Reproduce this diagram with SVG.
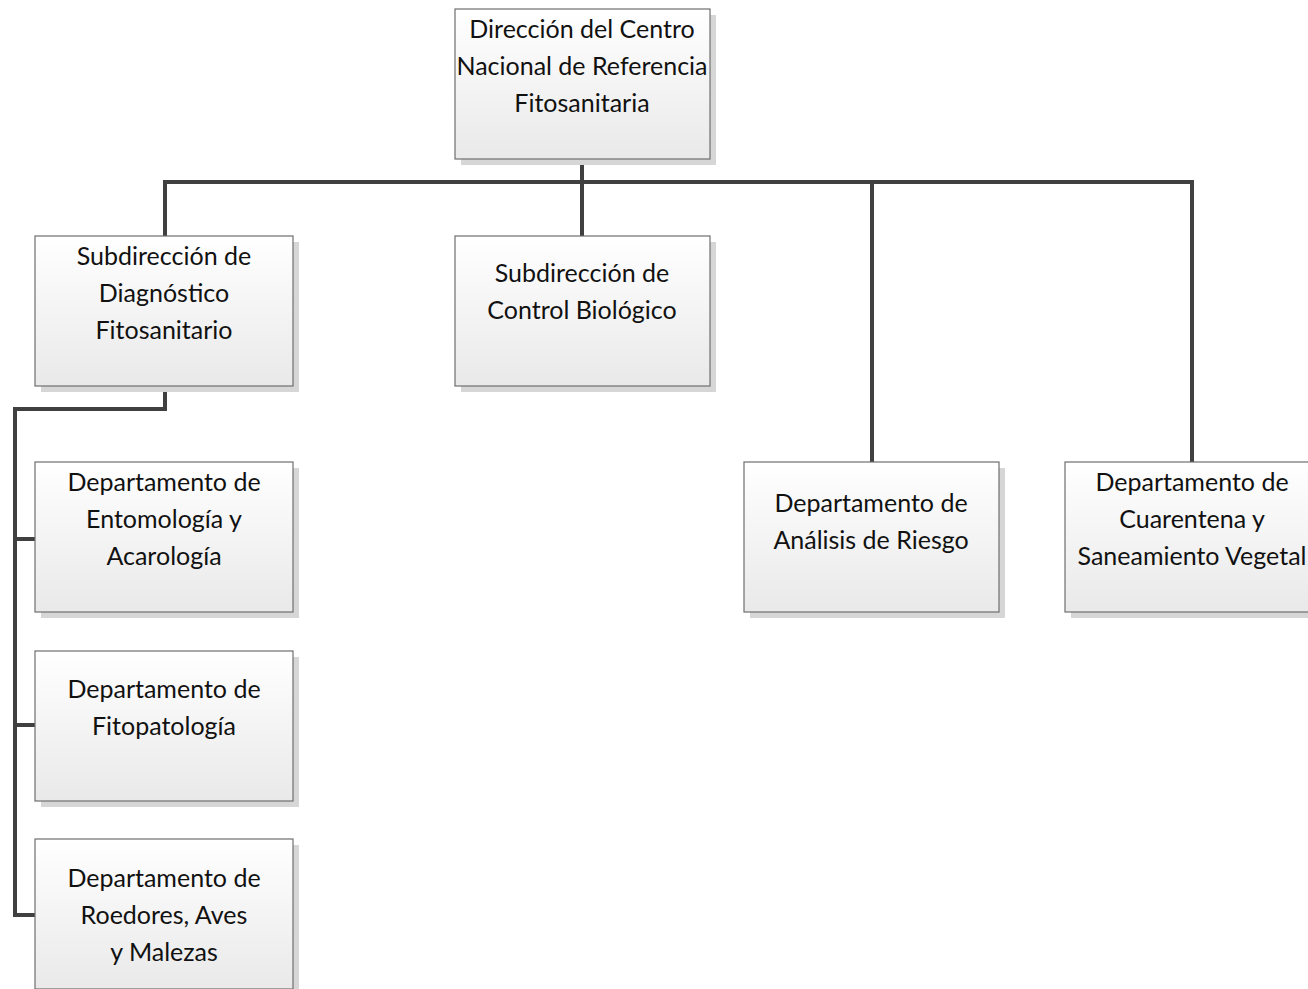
<svg xmlns="http://www.w3.org/2000/svg" width="1308" height="989" viewBox="0 0 1308 989">
<defs>
<linearGradient id="g" x1="0" y1="0" x2="0" y2="1">
<stop offset="0" stop-color="#ffffff"/>
<stop offset="1" stop-color="#e9e9e9"/>
</linearGradient>
<style>
.sh{fill:#d6d6d6}
.bx{fill:url(#g);stroke:#6e6e6e;stroke-width:1.2}
.t{font-family:Lato,"Open Sans","Liberation Sans",sans-serif;font-size:25px;fill:#111;text-anchor:middle}
.c{fill:none;stroke:#404040;stroke-width:4;stroke-linejoin:miter}
</style>
</defs>
<rect width="1308" height="989" fill="#ffffff"/>
<g id="connectors">
<path class="c" d="M582,159 V236"/>
<path class="c" d="M165,236 V182 H1192 V462"/>
<path class="c" d="M872,182 V462"/>
<path class="c" d="M165,386 V409 H15 V915 H35"/>
<path class="c" d="M15,539 H35"/>
<path class="c" d="M15,725 H35"/>
</g>
<g id="n_direccion">
<rect class="sh" x="461" y="15" width="255" height="150"/>
<rect class="bx" x="455" y="9" width="255" height="150"/>
<text class="t" x="582" y="38">Dirección del Centro</text>
<text class="t" x="582" y="75">Nacional de Referencia</text>
<text class="t" x="582" y="112">Fitosanitaria</text>
</g>
<g id="n_subdiag">
<rect class="sh" x="41" y="242" width="258" height="150"/>
<rect class="bx" x="35" y="236" width="258" height="150"/>
<text class="t" x="164" y="265">Subdirección de</text>
<text class="t" x="164" y="302">Diagnóstico</text>
<text class="t" x="164" y="339">Fitosanitario</text>
</g>
<g id="n_subcontrol">
<rect class="sh" x="461" y="242" width="255" height="150"/>
<rect class="bx" x="455" y="236" width="255" height="150"/>
<text class="t" x="582" y="282">Subdirección de</text>
<text class="t" x="582" y="319">Control Biológico</text>
</g>
<g id="n_analisis">
<rect class="sh" x="750" y="468" width="255" height="150"/>
<rect class="bx" x="744" y="462" width="255" height="150"/>
<text class="t" x="871" y="512">Departamento de</text>
<text class="t" x="871" y="549">Análisis de Riesgo</text>
</g>
<g id="n_cuarentena">
<rect class="sh" x="1071" y="468" width="255" height="150"/>
<rect class="bx" x="1065" y="462" width="255" height="150"/>
<text class="t" x="1192" y="491">Departamento de</text>
<text class="t" x="1192" y="528">Cuarentena y</text>
<text class="t" x="1192" y="565">Saneamiento Vegetal</text>
</g>
<g id="n_ento">
<rect class="sh" x="41" y="468" width="258" height="150"/>
<rect class="bx" x="35" y="462" width="258" height="150"/>
<text class="t" x="164" y="491">Departamento de</text>
<text class="t" x="164" y="528">Entomología y</text>
<text class="t" x="164" y="565">Acarología</text>
</g>
<g id="n_fito">
<rect class="sh" x="41" y="657" width="258" height="150"/>
<rect class="bx" x="35" y="651" width="258" height="150"/>
<text class="t" x="164" y="698">Departamento de</text>
<text class="t" x="164" y="735">Fitopatología</text>
</g>
<g id="n_roed">
<rect class="sh" x="41" y="845" width="258" height="150"/>
<rect class="bx" x="35" y="839" width="258" height="150"/>
<text class="t" x="164" y="887">Departamento de</text>
<text class="t" x="164" y="924">Roedores, Aves</text>
<text class="t" x="164" y="961">y Malezas</text>
</g>
</svg>
